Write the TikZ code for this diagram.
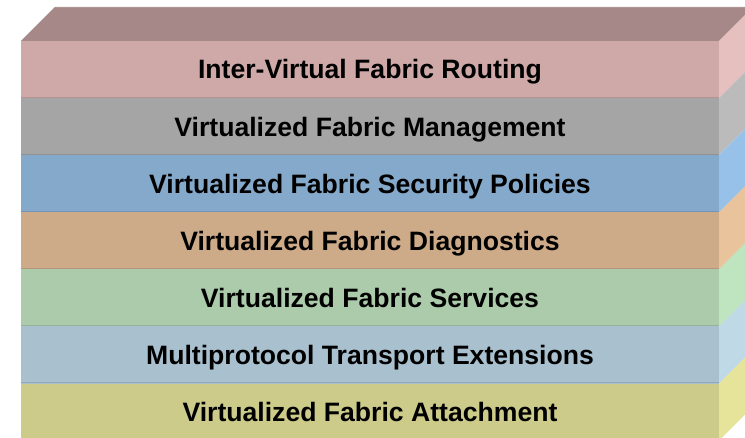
\documentclass[tikz,border=0pt]{standalone}
\usepackage{fontspec}
\setmainfont{Liberation Sans}
\definecolor{routeTop}{HTML}{A68888}
\definecolor{routeF}{HTML}{CEA9A8}
\definecolor{routeS}{HTML}{E6C0BF}
\definecolor{mgmtF}{HTML}{A5A5A5}
\definecolor{mgmtS}{HTML}{BBBBBB}
\definecolor{secF}{HTML}{84A9CB}
\definecolor{secS}{HTML}{97C1E8}
\definecolor{diagF}{HTML}{CDAA88}
\definecolor{diagS}{HTML}{E8C39C}
\definecolor{servF}{HTML}{ABCBAA}
\definecolor{servS}{HTML}{BEE5C0}
\definecolor{transF}{HTML}{A9C0CE}
\definecolor{transS}{HTML}{C0D9E6}
\definecolor{attF}{HTML}{CDCB89}
\definecolor{attS}{HTML}{E6E49A}
\begin{document}
\begin{tikzpicture}[x=1pt,y=-1pt,
  lbl/.style={anchor=base,font=\bfseries\fontsize{26.6}{30}\selectfont}]
\useasboundingbox (0,0) rectangle (745,438);
\clip (0,0) rectangle (745,438);
\fill[color=white] (0,0) rectangle (745,438);
% top face
\fill[color=routeTop] (21,41) -- (55,7) -- (753,7) -- (719,41) -- cycle;
\draw[color=routeTop!90!white] (55,7.5) -- (753,7.5);
\begin{scope}[shift={(0,41)}] %routing
  \fill[color=routeS] (719,0) -- (753,-34) -- (753,23.1) -- (719,57.1) -- cycle;
  \fill[color=routeF] (21,0) rectangle (719,57.1);
  \draw[color=routeF!88!black,thick] (21,56.4) -- (719,56.4);
  \node[lbl] (route) at (370,38) {Inter-Virtual Fabric Routing};
\end{scope}
\begin{scope}[shift={(0,98.1)}] %management
  \fill[color=mgmtS] (719,0) -- (753,-34) -- (753,23.1) -- (719,57.1) -- cycle;
  \fill[color=mgmtF] (21,0) rectangle (719,57.1);
  \draw[color=mgmtF!88!black,thick] (21,56.4) -- (719,56.4);
  \node[lbl] (mgmt) at (370,38) {Virtualized Fabric Management};
\end{scope}
\begin{scope}[shift={(0,155.2)}] %security
  \fill[color=secS] (719,0) -- (753,-34) -- (753,23.1) -- (719,57.1) -- cycle;
  \fill[color=secF] (21,0) rectangle (719,57.1);
  \draw[color=secF!88!black,thick] (21,56.4) -- (719,56.4);
  \node[lbl] (sec) at (370,38) {Virtualized Fabric Security Policies};
\end{scope}
\begin{scope}[shift={(0,212.3)}] %diagnostics
  \fill[color=diagS] (719,0) -- (753,-34) -- (753,23.1) -- (719,57.1) -- cycle;
  \fill[color=diagF] (21,0) rectangle (719,57.1);
  \draw[color=diagF!88!black,thick] (21,56.4) -- (719,56.4);
  \node[lbl] (diag) at (370,38) {Virtualized Fabric Diagnostics};
\end{scope}
\begin{scope}[shift={(0,269.4)}] %services
  \fill[color=servS] (719,0) -- (753,-34) -- (753,23.1) -- (719,57.1) -- cycle;
  \fill[color=servF] (21,0) rectangle (719,57.1);
  \draw[color=servF!88!black,thick] (21,56.4) -- (719,56.4);
  \node[lbl] (serv) at (370,38) {Virtualized Fabric Services};
\end{scope}
\begin{scope}[shift={(0,326.5)}] %transport
  \fill[color=transS] (719,0) -- (753,-34) -- (753,23.1) -- (719,57.1) -- cycle;
  \fill[color=transF] (21,0) rectangle (719,57.1);
  \draw[color=transF!88!black,thick] (21,56.4) -- (719,56.4);
  \node[lbl] (trans) at (370,38) {Multiprotocol Transport Extensions};
\end{scope}
\begin{scope}[shift={(0,383.6)}] %attachment
  \fill[color=attS] (719,0) -- (753,-34) -- (753,23.1) -- (719,57.1) -- cycle;
  \fill[color=attF] (21,0) rectangle (719,57.1);
  \node[lbl] (att) at (370,38) {Virtualized Fabric Attachment};
\end{scope}
\end{tikzpicture}
\end{document}
